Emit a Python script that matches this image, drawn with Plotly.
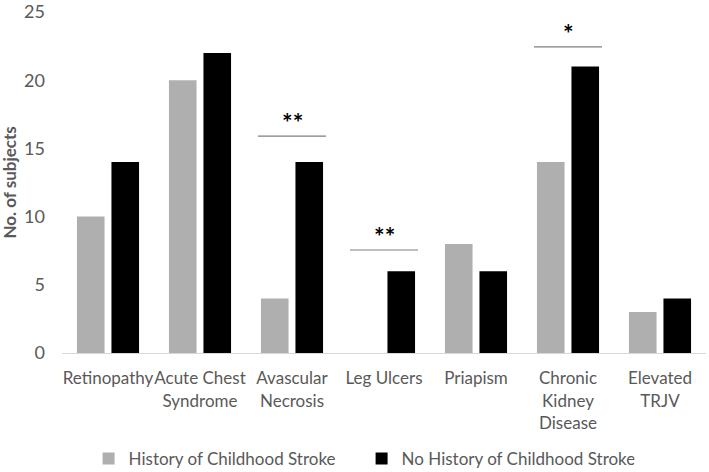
import plotly.graph_objects as go

# Kategorier och värden
categories = ["Retinopathy", "Acute Chest<br>Syndrome", "Avascular<br>Necrosis", "Leg Ulcers",
              "Priapism", "Chronic<br>Kidney<br>Disease", "Elevated<br>TRJV"]
history_stroke = [10, 20, 4, 0, 8, 14, 3]
no_history_stroke = [14, 22, 14, 6, 6, 21, 4]
y_ticks = [0, 5, 10, 15, 20, 25]

# Signifikansmarkeringar: kategori-index, höjd på linjen, text
sig_index = [2, 3, 5]
sig_level = [15.9, 7.55, 22.45]
sig_label = ["**", "**", "*"]

grey_text = "#595959"
font_family = "Lato, Carlito, 'Open Sans', sans-serif"

fig = go.Figure()
fig.add_trace(go.Bar(x=categories, y=history_stroke, name="History of Childhood Stroke",
                     marker=dict(color="#afafaf", line=dict(width=0))))
fig.add_trace(go.Bar(x=categories, y=no_history_stroke, name="No History of Childhood Stroke",
                     marker=dict(color="#000000", line=dict(width=0))))

# Linjer och stjärnor ovanför staplarna
half = 0.37
for i, lvl, lab in zip(sig_index, sig_level, sig_label):
    fig.add_shape(type="line", xref="x", yref="y", x0=i - half, x1=i + half, y0=lvl, y1=lvl,
                  line=dict(color="#7f7f7f", width=1.2))
    fig.add_annotation(x=i, y=lvl, text="<b>" + lab + "</b>", showarrow=False,
                       yanchor="bottom", yshift=-3, font=dict(size=25, color="#000000", family=font_family))

# Y-axelns titel som annotation så den inte krockar med ticks
fig.add_annotation(x=0, y=0.5, xref="paper", yref="paper", xshift=-53, textangle=-90,
                   text="<b>No. of subjects</b>", showarrow=False, xanchor="center", yanchor="middle",
                   font=dict(size=17, color=grey_text, family=font_family))

fig.update_layout(
    width=709, height=472,
    margin=dict(l=62, r=3, t=12, b=119, autoexpand=False),
    plot_bgcolor="white", paper_bgcolor="white",
    font=dict(family=font_family, size=17, color=grey_text),
    barmode="group", bargap=0.25, bargroupgap=0.2,
    showlegend=True,
    legend=dict(orientation="h", xref="container", yref="container", x=0.51, xanchor="center",
                y=0.0275, yanchor="middle", font=dict(size=17, color=grey_text),
                itemwidth=30, traceorder="normal", entrywidth=228, entrywidthmode="pixels"),
)
fig.update_xaxes(showline=True, linecolor="#d9d9d9", linewidth=1, ticks="", showgrid=False,
                 tickangle=0, automargin=False,
                 tickfont=dict(size=17, color=grey_text), ticklabelstandoff=10)
fig.update_yaxes(range=[0, 25], tickvals=y_ticks, showgrid=False, zeroline=False, showline=False,
                 automargin=False,
                 tickfont=dict(size=18, color=grey_text), ticklabelstandoff=16)

# Ta bort sidans standardmarginal så figuren börjar i hörnet
fig.write_html("out.html", config={"displayModeBar": False},
               post_script="document.body.style.margin='0px';")
